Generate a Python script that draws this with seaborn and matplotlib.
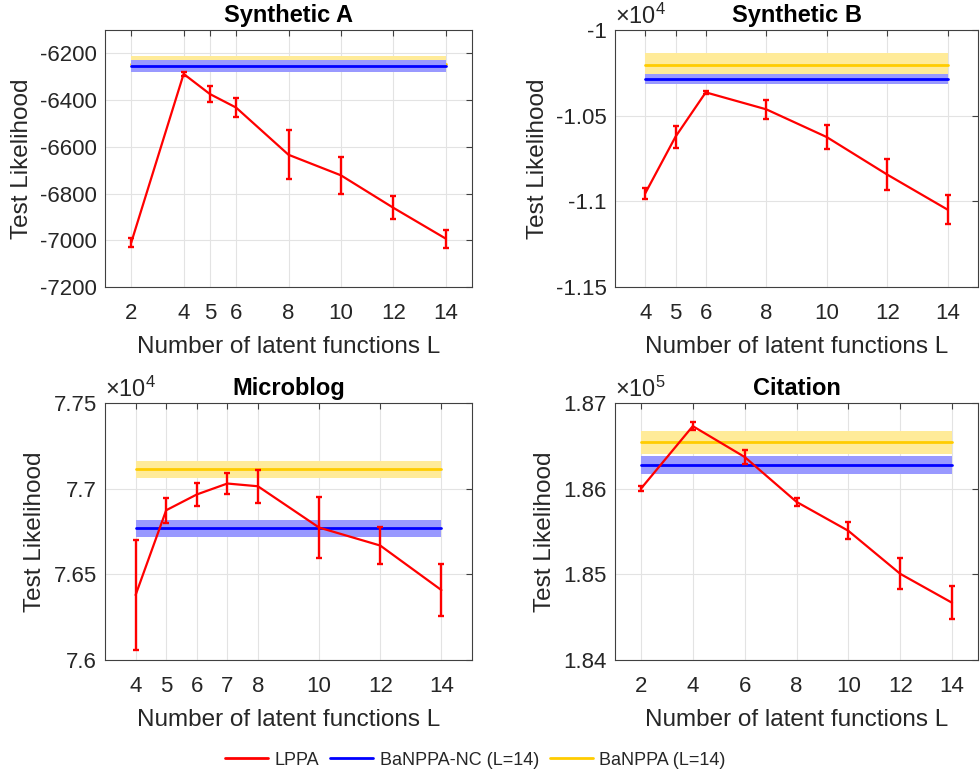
import numpy as np
import pandas as pd
import matplotlib
matplotlib.use("Agg")
import matplotlib.pyplot as plt
import seaborn as sns
from matplotlib.lines import Line2D
from matplotlib.ticker import FuncFormatter

# ---------------- data ----------------
titles = ["Synthetic A", "Synthetic B", "Microblog", "Citation"]

L_A = [2, 4, 5, 6, 8, 10, 12, 14]
lppa_A = [-7010, -6288, -6374, -6432, -6634, -6722, -6861, -6993]
lppa_A_err = [20, 10, 33, 39, 105, 80, 50, 38]
nc_A, nc_A_std = -6254, 25
ba_A, ba_A_std = -6245, 32

L_B = [4, 5, 6, 8, 10, 12, 14]
lppa_B = [-10953, -10623, -10364, -10463, -10625, -10844, -11049]
lppa_B_err = [32, 65, 10, 57, 69, 90, 84]
nc_B, nc_B_std = -10286, 31
ba_B, ba_B_std = -10206, 69

L_M = [4, 5, 6, 7, 8, 10, 12, 14]
lppa_M = [76379, 76874, 76966, 77030, 77014, 76773, 76668, 76408]
lppa_M_err = [323, 73, 66, 59, 97, 178, 107, 150]
nc_M, nc_M_std = 76769, 50
ba_M, ba_M_std = 77113, 50

L_C = [2, 4, 6, 8, 10, 12, 14]
lppa_C = [186000, 186730, 186370, 185846, 185508, 185006, 184668]
lppa_C_err = [30, 50, 85, 50, 100, 180, 190]
nc_C, nc_C_std = 186273, 107
ba_C, ba_C_std = 186541, 136

series = [
    (L_A, lppa_A, lppa_A_err, nc_A, nc_A_std, ba_A, ba_A_std),
    (L_B, lppa_B, lppa_B_err, nc_B, nc_B_std, ba_B, ba_B_std),
    (L_M, lppa_M, lppa_M_err, nc_M, nc_M_std, ba_M, ba_M_std),
    (L_C, lppa_C, lppa_C_err, nc_C, nc_C_std, ba_C, ba_C_std),
]
xlims = [(1, 15), (3, 15), (3, 15), (1, 15)]
yticks = [
    [-7200, -7000, -6800, -6600, -6400, -6200],
    [-11500, -11000, -10500, -10000],
    [76000, 76500, 77000, 77500],
    [184000, 185000, 186000, 187000],
]
ylims = [(-7200, -6100), (-11500, -10000), (76000, 77500), (184000, 187000)]
scales = [1, 1e4, 1e4, 1e5]
exps = [None, 4, 4, 5]
legend_labels = ["LPPA", "BaNPPA-NC (L=14)", "BaNPPA (L=14)"]

# ---------------- style ----------------
sns.set_style("white")
plt.rcParams["font.family"] = ["Liberation Sans", "DejaVu Sans"]
plt.rcParams["axes.unicode_minus"] = False
plt.rcParams["mathtext.fontset"] = "custom"
plt.rcParams["mathtext.rm"] = "Liberation Sans"
plt.rcParams["mathtext.it"] = "Liberation Sans"

RED = "#ff0000"
BLUE = "#0000ff"
YEL = "#ffcc00"
BLUE_BAND = "#9999ff"
YEL_BAND = "#ffeb99"
TXT = "#262626"

fig = plt.figure(figsize=(9.8, 7.78), dpi=100)
W, H = 980, 778
boxes = [(105, 30, 472, 287), (615, 30, 978, 287),
         (105, 403, 472, 660), (615, 403, 978, 660)]

for i, (bx, s) in enumerate(zip(boxes, series)):
    l, t, r, b = bx
    ax = fig.add_axes([l / W, 1 - b / H, (r - l) / W, (b - t) / H])
    L, y, e, nc, ncs, ba, bas = s
    xs = [L[0], L[-1]]
    # BaNPPA (yellow) band + line
    ax.fill_between(xs, ba - bas, ba + bas, color=YEL_BAND, lw=0, zorder=2)
    sns.lineplot(x=xs, y=[ba, ba], ax=ax, color=YEL, lw=2, zorder=3)
    # BaNPPA-NC (blue) band + line
    ax.fill_between(xs, nc - ncs, nc + ncs, color=BLUE_BAND, lw=0, zorder=4)
    sns.lineplot(x=xs, y=[nc, nc], ax=ax, color=BLUE, lw=2, zorder=5)
    # LPPA
    df = pd.DataFrame({"L": L, "v": y})
    sns.lineplot(data=df, x="L", y="v", ax=ax, color=RED, lw=1.6, zorder=6)
    ax.errorbar(L, y, yerr=e, fmt="none", ecolor=RED, elinewidth=1.7,
                capsize=2.3, capthick=1.7, zorder=7)

    ax.set_xlim(*xlims[i])
    ax.set_ylim(*ylims[i])
    ax.set_xticks(L)
    ax.set_yticks(yticks[i])
    sc = scales[i]
    ax.yaxis.set_major_formatter(FuncFormatter(lambda v, p, sc=sc: "%g" % round(v / sc, 6)))
    ax.grid(True, color="#e3e3e3", lw=0.8, zorder=0)
    ax.set_axisbelow(True)
    for sp in ax.spines.values():
        sp.set_color("#404040")
        sp.set_linewidth(0.8)
        sp.set_visible(True)
        sp.set_zorder(10)
    ax.tick_params(direction="in", top=True, right=True, length=4, width=0.8,
                   colors="#404040", labelcolor=TXT, labelsize=16, pad=6)
    ax.tick_params(axis="x", pad=11.5)
    ax.set_xlabel("Number of latent functions L", fontsize=17.5, color=TXT, labelpad=9)
    ax.set_ylabel("Test Likelihood", fontsize=17.5, color=TXT, labelpad=5)
    ax.set_title(titles[i], fontsize=17, fontweight="bold", color="black", pad=6)
    if exps[i] is not None:
        ax.text(0.0, 1.004, r"$\times10^{%d}$" % exps[i], transform=ax.transAxes,
                ha="left", va="bottom", fontsize=17, color=TXT)
    if ax.get_legend() is not None:
        ax.get_legend().remove()

handles = [Line2D([], [], color=RED, lw=2),
           Line2D([], [], color=BLUE, lw=2),
           Line2D([], [], color=YEL, lw=2)]
fig.legend(handles, legend_labels, loc="center", bbox_to_anchor=(0.485, 0.023),
           ncol=3, frameon=False, fontsize=13, handlelength=2.4,
           columnspacing=0.6, handletextpad=0.35)

fig.savefig("out.png", dpi=100)
